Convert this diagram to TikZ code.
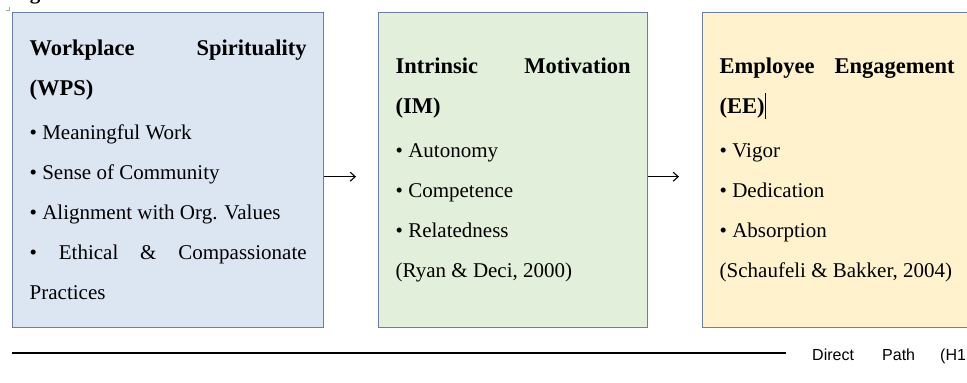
\documentclass[tikz,border=0pt]{standalone}
\usepackage{fontspec}
\setmainfont{Liberation Serif}
\newfontfamily\labelsans{Liberation Sans}
\usetikzlibrary{arrows.meta}
\definecolor{edgeblue}{HTML}{6C7EA2}
\definecolor{fillwps}{HTML}{DCE6F2}
\definecolor{fillim}{HTML}{E2EFDA}
\definecolor{fillee}{HTML}{FFF2CC}
\newcommand{\boxtitle}[1]{{\bfseries\fontsize{22.5pt}{40pt}\selectfont #1}}
\begin{document}
\begin{tikzpicture}[x=1pt,y=-1pt,
  conceptbox/.style={draw=edgeblue,line width=1.4pt,rectangle,inner sep=0pt,
    minimum height=315pt,anchor=north west,
    font=\fontsize{21pt}{40pt}\selectfont},
  flowarrow/.style={line width=1.1pt,-{Straight Barb[length=5pt,width=9pt]}},
  pathline/.style={line width=1.6pt},
  pathtext/.style={font=\labelsans\fontsize{16pt}{18pt}\selectfont,anchor=base west,inner sep=0pt}]
\useasboundingbox (0,0) rectangle (967,383);

% caption word, only its lower edge falls inside the page
\node[font=\bfseries\fontsize{21pt}{24pt}\selectfont,anchor=base west,inner sep=0pt] (cap) at (11,-0.5) {Figure};
\draw[gray!70,line width=0.6pt] (6,10.5) -- (9.5,10.5) -- (9.5,7);

% three concept boxes
\node[conceptbox,fill=fillwps,minimum width=311pt] (wps) at (12,12) {\parbox{277pt}{%
  \boxtitle{Workplace\hfill Spirituality}\\
  \boxtitle{(WPS)}\\[4pt]
  • Meaningful Work\\
  • Sense of Community\\
  • Alignment with Org. Values\\
  •\hfill Ethical\hfill \&\hfill Compassionate\\
  Practices}};

\node[conceptbox,fill=fillim,minimum width=269pt] (im) at (378,12) {\parbox{235pt}{%
  \boxtitle{Intrinsic\hfill Motivation}\\
  \boxtitle{(IM)}\\[4pt]
  • Autonomy\\
  • Competence\\
  • Relatedness\\
  (Ryan \& Deci, 2000)}};

\node[conceptbox,fill=fillee,minimum width=269pt] (ee) at (702,12) {\parbox{235pt}{%
  \boxtitle{Employee\hfill Engagement}\\
  \boxtitle{(EE)}\rule[-5pt]{0.7pt}{26pt}\\[4pt]
  • Vigor\\
  • Dedication\\
  • Absorption\\
  (Schaufeli \& Bakker, 2004)}};

% arrows between the boxes
\draw[flowarrow] ([yshift=-6.5pt]wps.east) -- ([yshift=-6.5pt,xshift=-22pt]im.west);
\draw[flowarrow] ([yshift=-6.5pt]im.east) -- ([yshift=-6.5pt,xshift=-23pt]ee.west);

% legend line for the direct path
\coordinate (l0) at (12,353);
\coordinate (l1) at (786,353);
\draw[pathline] (l0) -- (l1);
\node[pathtext] (t1) at (812,360) {Direct};
\node[pathtext] (t2) at (882,360) {Path};
\node[pathtext] (t3) at (940,360) {(H1};
\end{tikzpicture}
\end{document}
